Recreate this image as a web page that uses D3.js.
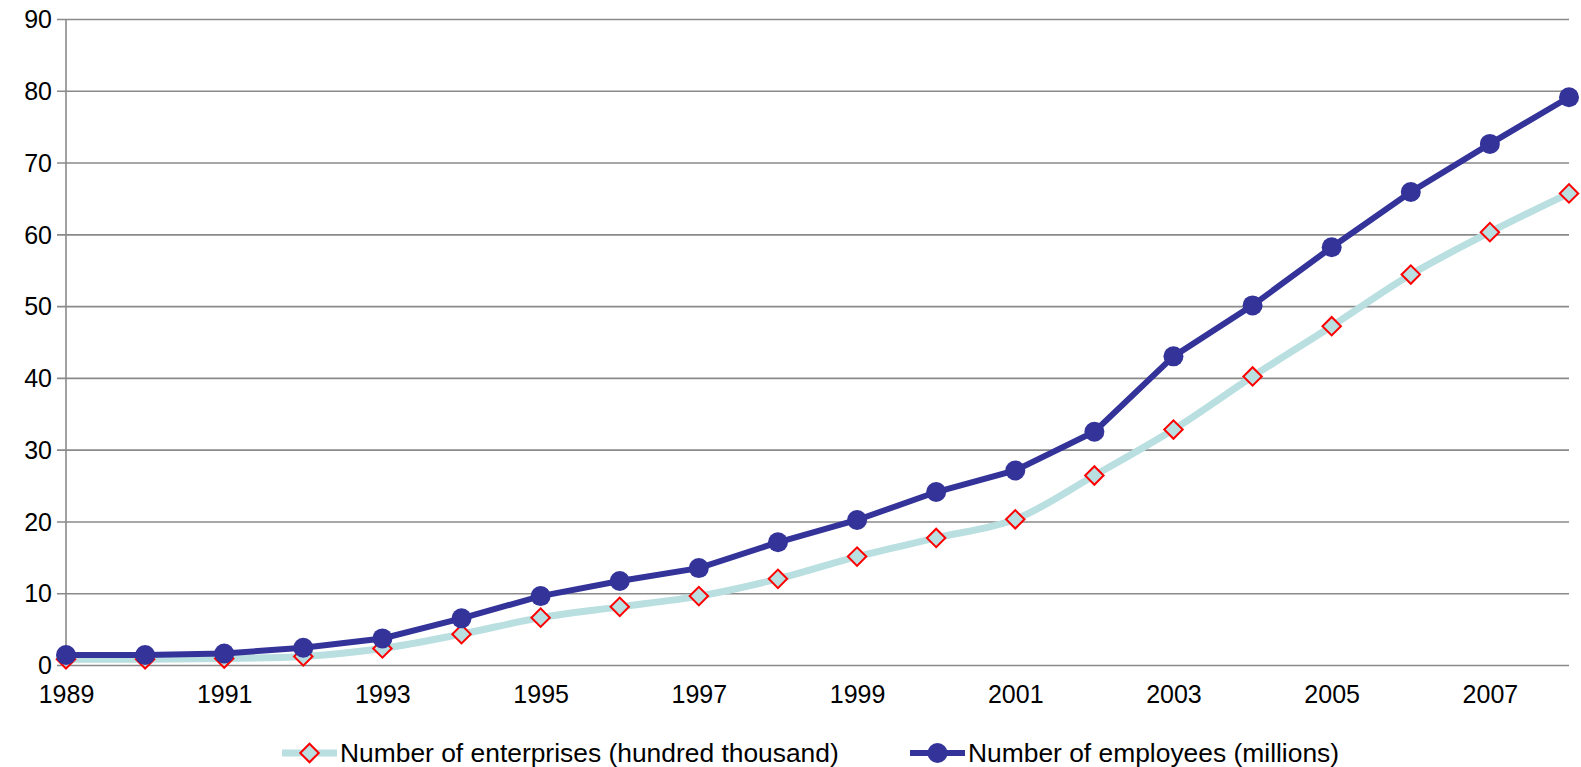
<!DOCTYPE html>
<html>
<head>
<meta charset="utf-8">
<script src="https://cdn.jsdelivr.net/npm/d3@7"></script>
<style>
  body { margin: 0; background: #fff; }
  svg { display: block; font-family: 'Liberation Sans', Arial, sans-serif; }
  .tick-label { font-size: 25px; fill: #000; }
  .legend-label { font-size: 26.4px; fill: #000; }
</style>
</head>
<body>
<div id="wrapper"></div>
<script>
// Data
const years = [1989, 1990, 1991, 1992, 1993, 1994, 1995, 1996, 1997, 1998,
  1999, 2000, 2001, 2002, 2003, 2004, 2005, 2006, 2007, 2008]
const enterprises = [0.8, 0.8, 0.9, 1.2, 2.3, 4.3, 6.6, 8.1, 9.6, 12.0,
  15.1, 17.7, 20.3, 26.4, 32.8, 40.2, 47.2, 54.4, 60.3, 65.7]
const employees = [1.4, 1.4, 1.6, 2.4, 3.7, 6.5, 9.6, 11.7, 13.5, 17.1,
  20.2, 24.1, 27.1, 32.5, 43.0, 50.1, 58.2, 65.9, 72.6, 79.1]
const yTicks = [0, 10, 20, 30, 40, 50, 60, 70, 80, 90]
const xTickYears = [1989, 1991, 1993, 1995, 1997, 1999, 2001, 2003, 2005, 2007]
const seriesNames = ['Number of enterprises (hundred thousand)', 'Number of employees (millions)']

function drawChart() {
  const dimensions = {
    width: 1581,
    height: 767,
    margin: { top: 19, right: 12, bottom: 102, left: 66 },
  }
  dimensions.boundedWidth = dimensions.width - dimensions.margin.left - dimensions.margin.right
  dimensions.boundedHeight = dimensions.height - dimensions.margin.top - dimensions.margin.bottom

  const wrapper = d3.select('#wrapper')
    .append('svg')
    .attr('width', dimensions.width)
    .attr('height', dimensions.height)

  const bounds = wrapper.append('g')
    .attr('transform', `translate(${dimensions.margin.left},${dimensions.margin.top})`)

  // Scales
  const xScale = d3.scaleLinear()
    .domain([1989, 2008])
    .range([0, dimensions.boundedWidth])
  const yScale = d3.scaleLinear()
    .domain([0, 90])
    .range([dimensions.boundedHeight, 0])

  // Gridlines + y axis
  const yAxis = d3.axisLeft(yScale)
    .tickValues(yTicks)
    .tickSize(-dimensions.boundedWidth)
    .tickSizeOuter(0)
    .tickPadding(14)
  const yAxisGroup = bounds.append('g').call(yAxis)
  yAxisGroup.select('.domain').remove()
  yAxisGroup.selectAll('.tick line')
    .attr('x1', -9)
    .attr('stroke', '#8a8a8a')
    .attr('stroke-width', 1.6)
  yAxisGroup.selectAll('.tick text')
    .attr('class', 'tick-label')
    .attr('font-family', null)
    .attr('font-size', null)
    .attr('dy', '0.35em')

  // vertical axis line
  bounds.append('line')
    .attr('x1', 0).attr('x2', 0)
    .attr('y1', 0).attr('y2', dimensions.boundedHeight)
    .attr('stroke', '#8a8a8a')
    .attr('stroke-width', 1.6)

  // x axis labels (no tick marks)
  const xAxis = d3.axisBottom(xScale)
    .tickValues(xTickYears)
    .tickFormat(d3.format('d'))
    .tickSize(0)
    .tickPadding(20)
  const xAxisGroup = bounds.append('g')
    .attr('transform', `translate(0,${dimensions.boundedHeight})`)
    .call(xAxis)
  xAxisGroup.select('.domain').remove()
  xAxisGroup.selectAll('.tick text')
    .attr('class', 'tick-label')
    .attr('font-family', null)
    .attr('font-size', null)

  // Lines
  const enterpriseLine = d3.line()
    .x((d, i) => xScale(years[i]))
    .y(d => yScale(d))
    .curve(d3.curveCatmullRom)
  const employeeLine = d3.line()
    .x((d, i) => xScale(years[i]))
    .y(d => yScale(d))

  const lightColor = '#b9dfe1'
  const darkColor = '#333399'
  const diamond = d3.symbol().type(d3.symbolSquare).size(170)

  bounds.append('path')
    .datum(enterprises)
    .attr('d', enterpriseLine)
    .attr('fill', 'none')
    .attr('stroke', lightColor)
    .attr('stroke-width', 7)

  bounds.selectAll('.enterprise-marker')
    .data(enterprises)
    .enter()
    .append('path')
    .attr('class', 'enterprise-marker')
    .attr('d', diamond)
    .attr('transform', (d, i) => `translate(${xScale(years[i])},${yScale(d)}) rotate(45)`)
    .attr('fill', lightColor)
    .attr('stroke', '#ff0000')
    .attr('stroke-width', 2)

  bounds.append('path')
    .datum(employees)
    .attr('d', employeeLine)
    .attr('fill', 'none')
    .attr('stroke', darkColor)
    .attr('stroke-width', 6)

  bounds.selectAll('.employee-marker')
    .data(employees)
    .enter()
    .append('circle')
    .attr('class', 'employee-marker')
    .attr('cx', (d, i) => xScale(years[i]))
    .attr('cy', d => yScale(d))
    .attr('r', 10)
    .attr('fill', darkColor)

  // Legend
  const legendY = 753
  const legend1 = wrapper.append('g').attr('transform', `translate(282,${legendY})`)
  legend1.append('line')
    .attr('x1', 0).attr('x2', 55)
    .attr('stroke', lightColor).attr('stroke-width', 7)
  legend1.append('path')
    .attr('d', diamond)
    .attr('transform', 'translate(27.5,0) rotate(45)')
    .attr('fill', lightColor)
    .attr('stroke', '#ff0000')
    .attr('stroke-width', 2)
  legend1.append('text')
    .attr('class', 'legend-label')
    .attr('x', 58)
    .attr('dy', '0.35em')
    .text(seriesNames[0])

  const legend2 = wrapper.append('g').attr('transform', `translate(910,${legendY})`)
  legend2.append('line')
    .attr('x1', 0).attr('x2', 55)
    .attr('stroke', darkColor).attr('stroke-width', 6)
  legend2.append('circle')
    .attr('cx', 27.5)
    .attr('r', 10)
    .attr('fill', darkColor)
  legend2.append('text')
    .attr('class', 'legend-label')
    .attr('x', 58)
    .attr('dy', '0.35em')
    .text(seriesNames[1])
}
drawChart()
</script>
</body>
</html>
